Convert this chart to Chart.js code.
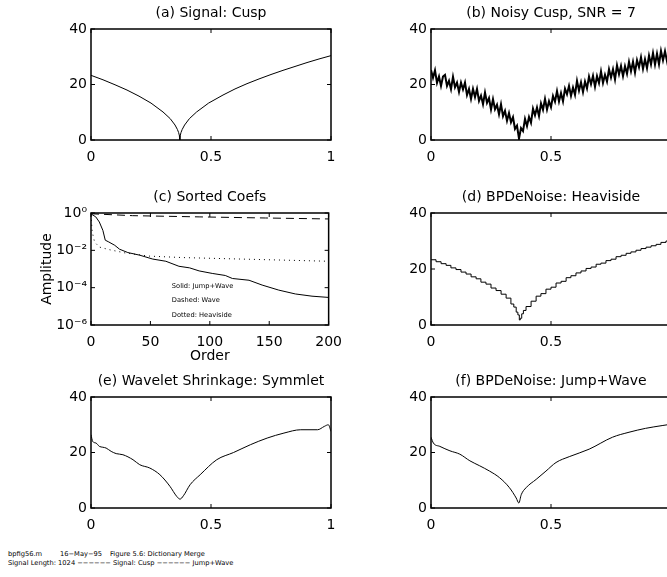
<!DOCTYPE html>
<html>
<head>
<meta charset="utf-8">
<script src="https://cdn.jsdelivr.net/npm/chart.js@4.4.1/dist/chart.umd.min.js"></script>
<style>
  html, body { margin: 0; padding: 0; background: #fff; width: 667px; height: 577px; overflow: hidden; }
  body { position: relative; }
  canvas { position: absolute; }
  .foot { position: absolute; font-family: "DejaVu Sans"; font-size: 6.7px; color: #000; white-space: pre; }
</style>
</head>
<body>
<canvas id="pa" width="320" height="163" style="left:31px;top:5px"></canvas>
<canvas id="pb" width="320" height="163" style="left:371px;top:5px"></canvas>
<canvas id="pc" width="320" height="176" style="left:31px;top:189px"></canvas>
<canvas id="pd" width="320" height="164" style="left:371px;top:189px"></canvas>
<canvas id="pe" width="320" height="163" style="left:31px;top:373px"></canvas>
<canvas id="pf" width="320" height="163" style="left:371px;top:373px"></canvas>
<div class="foot" style="left:8px;top:550px">bpfig56.m</div>
<div class="foot" style="left:60px;top:550px">16−May−95</div>
<div class="foot" style="left:110px;top:550px">Figure 5.6: Dictionary Merge</div>
<div class="foot" style="left:8px;top:559px">Signal Length: 1024 −−−−−− Signal: Cusp −−−−−− Jump+Wave</div>
<script>
    // ---------------- Data ----------------
    const panelTitles = [
        '(a) Signal: Cusp',
        '(b) Noisy Cusp, SNR = 7',
        '(c) Sorted Coefs',
        '(d) BPDeNoise: Heaviside',
        '(e) Wavelet Shrinkage: Symmlet',
        '(f) BPDeNoise: Jump+Wave'
    ];
    const signalTicks = [0, 0.5, 1];
    const ampTicks = [0, 20, 40];

    // (a) clean cusp
    const cuspT = [0, 0.05, 0.1, 0.15, 0.2, 0.25, 0.3, 0.33, 0.35, 0.36, 0.365, 0.368, 0.37,
        0.372, 0.375, 0.38, 0.39, 0.41, 0.44, 0.49, 0.55, 0.6, 0.65, 0.7, 0.75, 0.8, 0.85, 0.9, 0.95, 1];
    const cuspY = [23.3, 21.7, 19.9, 18.0, 15.8, 13.3, 10.1, 7.7, 5.4, 3.8, 2.7, 1.7, 0,
        1.7, 2.7, 3.8, 5.4, 7.7, 10.1, 13.3, 16.2, 18.4, 20.3, 22.0, 23.6, 25.1, 26.5, 27.9, 29.2, 30.4];

    // (b) noisy cusp, uniformly sampled on [0, 1]
    const noisyY = [
        25.2, 22.4, 25.1, 20.6, 22.9, 19.5, 22.9, 23.5, 19.5, 21.3,
        18.3, 22.8, 19.0, 20.7, 17.3, 20.7, 18.2, 20.7, 16.2, 18.4,
        14.8, 18.4, 15.5, 18.4, 14.1, 16.0, 12.9, 17.1, 13.4, 15.1,
        11.0, 14.7, 11.1, 12.7, 9.3, 12.9, 8.6, 10.5, 6.9, 9.7,
        6.4, 8.2, 4.0, 5.2, 0.5, 4.3, 3.2, 7.6, 5.0, 8.3,
        6.2, 11.3, 8.9, 11.7, 8.6, 13.2, 10.9, 14.8, 11.0, 14.0,
        11.8, 15.9, 13.8, 17.6, 13.9, 16.9, 13.9, 18.5, 16.5, 19.5,
        15.9, 18.9, 16.3, 21.3, 17.8, 20.8, 17.3, 21.1, 18.6, 22.9,
        20.1, 23.1, 19.2, 23.0, 20.5, 24.7, 20.6, 23.5, 21.1, 25.5,
        22.5, 25.5, 21.8, 26.9, 23.7, 26.7, 23.0, 26.6, 23.9, 28.2,
        24.8, 28.2, 24.3, 28.8, 26.2, 29.8, 25.6, 29.1, 25.9, 30.4,
        27.2, 31.3, 27.2, 31.1, 27.3, 32.1, 28.7, 32.0, 28.4, 32.1,
        29.4
    ];

    // (c) sorted coefficients
    const solidOrder = [0, 4, 7, 10, 12, 15, 20, 24, 31, 41, 52, 63, 74, 83, 91, 102, 113, 119, 133, 144, 158, 172, 186, 200];
    const solidAmp = [0.9, 0.62, 0.33, 0.117, 0.035, 0.028, 0.0186, 0.0115, 0.0076, 0.0055, 0.0034, 0.0026,
        0.0014, 0.00115, 0.00079, 0.00058, 0.00045, 0.00031, 0.00025, 0.000138, 0.000074, 0.000046, 0.000035, 0.00003];
    const dashedOrder = [0, 35, 91, 147, 200];
    const dashedAmp = [0.91, 0.72, 0.62, 0.54, 0.48];
    const dottedOrder = [0, 1, 3, 7, 15, 29, 49, 77, 119, 161, 200];
    const dottedAmp = [0.8, 0.1, 0.028, 0.015, 0.011, 0.0072, 0.0049, 0.0041, 0.0035, 0.003, 0.0026];
    const orderTicks = [0, 50, 100, 150, 200];
    const coefNotes = ['Solid: Jump+Wave', 'Dashed: Wave', 'Dotted: Heaviside'];

    // (d) BPDeNoise Heaviside (staircase)
    const heaviT = [0, 0.021, 0.042, 0.063, 0.083, 0.104, 0.125, 0.146, 0.167, 0.188, 0.208, 0.229, 0.25,
        0.271, 0.292, 0.313, 0.333, 0.345, 0.355, 0.362, 0.368, 0.372, 0.378, 0.385, 0.396, 0.417, 0.438,
        0.458, 0.479, 0.5, 0.521, 0.542, 0.563, 0.583, 0.604, 0.625, 0.646, 0.667, 0.688, 0.708, 0.729,
        0.75, 0.771, 0.792, 0.813, 0.833, 0.854, 0.875, 0.896, 0.917, 0.938, 0.958, 0.979, 1];
    const heaviY = [23.3, 22.6, 21.9, 21.3, 20.4, 19.8, 18.9, 18.2, 17.2, 16.5, 15.3, 14.6, 13.2,
        12.3, 11.0, 9.6, 7.5, 6.4, 4.6, 3.6, 1.8, 2.4, 4.0, 5.2, 6.6, 8.5, 10.3,
        11.2, 12.8, 13.5, 15.0, 15.6, 16.9, 17.6, 18.6, 19.3, 20.2, 20.7, 21.7, 22.1, 23.0,
        23.5, 24.4, 24.9, 25.6, 26.1, 26.7, 27.3, 27.8, 28.3, 28.8, 29.5, 30.0, 30.4];

    // (e) wavelet shrinkage
    const shrinkT = [0, 0.007, 0.021, 0.035, 0.049, 0.063, 0.084, 0.105, 0.133, 0.175, 0.203, 0.245, 0.287,
        0.329, 0.357, 0.371, 0.385, 0.413, 0.455, 0.524, 0.594, 0.664, 0.734, 0.804, 0.874, 0.944, 0.972, 0.989, 1];
    const shrinkY = [26.4, 24.0, 23.4, 22.2, 21.9, 21.6, 20.4, 19.6, 19.2, 17.4, 15.6, 14.4, 12.0,
        7.8, 4.2, 3.2, 4.4, 8.4, 12.0, 17.4, 20.0, 22.8, 25.2, 27.0, 28.2, 28.2, 29.4, 30.0, 27.6];

    // (f) BPDeNoise Jump+Wave
    const jwT = [0, 0.01, 0.037, 0.079, 0.12, 0.162, 0.203, 0.244, 0.286, 0.327, 0.355, 0.366, 0.376,
        0.396, 0.438, 0.479, 0.521, 0.576, 0.659, 0.756, 0.825, 0.894, 0.963, 1];
    const jwY = [25.5, 23.4, 22.2, 20.6, 19.4, 17.0, 15.2, 13.3, 10.9, 7.3, 3.6, 1.8, 4.8,
        7.3, 10.3, 13.3, 16.4, 18.5, 21.2, 25.5, 27.3, 28.7, 29.7, 30.2];

    // ---------------- Helpers ----------------
    Chart.defaults.font.family = 'DejaVu Sans';
    Chart.defaults.font.size = 14;
    Chart.defaults.color = '#000';

    const zip = (xs, ys) => xs.map((x, i) => ({ x: x, y: ys[i] }));

    // matlab style box with inward ticks on all four sides
    const boxTicks = {
        id: 'boxTicks',
        afterDatasetsDraw(chart) {
            const { ctx, chartArea: a, scales } = chart;
            const len = 4;
            ctx.save();
            ctx.strokeStyle = '#000';
            ctx.lineWidth = 1;
            scales.x.ticks.forEach(t => {
                const px = scales.x.getPixelForValue(t.value);
                ctx.beginPath();
                ctx.moveTo(px, a.bottom); ctx.lineTo(px, a.bottom - len);
                ctx.moveTo(px, a.top); ctx.lineTo(px, a.top + len);
                ctx.stroke();
            });
            scales.y.ticks.forEach(t => {
                const py = scales.y.getPixelForValue(t.value);
                ctx.beginPath();
                ctx.moveTo(a.left, py); ctx.lineTo(a.left + len, py);
                ctx.moveTo(a.right, py); ctx.lineTo(a.right - len, py);
                ctx.stroke();
            });
            ctx.lineWidth = 1.5;
            ctx.strokeRect(a.left, a.top, a.right - a.left, a.bottom - a.top);
            ctx.restore();
        }
    };

    function lineSet(points, extra) {
        return Object.assign({
            data: points,
            borderColor: '#000',
            borderWidth: 1,
            pointRadius: 0,
            fill: false
        }, extra || {});
    }

    function signalPanel(id, title, datasets) {
        new Chart(document.getElementById(id), {
            type: 'line',
            data: { datasets: datasets },
            plugins: [boxTicks],
            options: {
                responsive: false,
                animation: false,
                layout: { padding: { left: 0, right: 20, top: 0, bottom: 0 } },
                plugins: {
                    legend: { display: false },
                    tooltip: { enabled: false },
                    title: {
                        display: true, text: title, fullSize: false,
                        font: { size: 14, weight: 'normal' },
                        padding: { top: 0, bottom: 7.2 }
                    }
                },
                scales: {
                    x: {
                        type: 'linear', min: 0, max: 1,
                        afterBuildTicks: s => { s.ticks = signalTicks.map(v => ({ value: v })); },
                        afterFit: s => { s.height = 28; },
                        grid: { display: false, drawTicks: false },
                        border: { display: false },
                        ticks: { padding: 9, maxRotation: 0, callback: v => String(v) }
                    },
                    y: {
                        type: 'linear', min: 0, max: 40,
                        afterBuildTicks: s => { s.ticks = ampTicks.map(v => ({ value: v })); },
                        afterFit: s => { s.width = 60; },
                        grid: { display: false, drawTicks: false },
                        border: { display: false },
                        ticks: { padding: 4, callback: v => String(v) }
                    }
                }
            }
        });
    }

    // ---------------- Panels ----------------
    signalPanel('pa', panelTitles[0], [lineSet(zip(cuspT, cuspY))]);
    signalPanel('pb', panelTitles[1], [lineSet(noisyY.map((y, i) => ({ x: i / (noisyY.length - 1), y: y })), { borderWidth: 2 })]);
    signalPanel('pd', panelTitles[3], [lineSet(zip(heaviT, heaviY), { stepped: true })]);
    signalPanel('pe', panelTitles[4], [lineSet(zip(shrinkT, shrinkY), { cubicInterpolationMode: 'monotone' })]);
    signalPanel('pf', panelTitles[5], [lineSet(zip(jwT, jwY), { cubicInterpolationMode: 'monotone' })]);

    const superDigits = { '0': '⁰', '2': '²', '4': '⁴', '6': '⁶' };
    const coefNotesPlugin = {
        id: 'coefNotes',
        afterDatasetsDraw(chart) {
            const { ctx, scales } = chart;
            ctx.save();
            ctx.font = '6.7px "DejaVu Sans"';
            ctx.fillStyle = '#000';
            ctx.textBaseline = 'middle';
            const ys = [10 ** -3.9, 10 ** -4.7, 10 ** -5.5];
            coefNotes.forEach((txt, i) => {
                ctx.fillText(txt, scales.x.getPixelForValue(68), scales.y.getPixelForValue(ys[i]));
            });
            ctx.restore();
        }
    };

    new Chart(document.getElementById('pc'), {
        type: 'line',
        data: {
            datasets: [
                lineSet(zip(solidOrder, solidAmp)),
                lineSet(zip(dashedOrder, dashedAmp), { borderDash: [8, 5] }),
                lineSet(zip(dottedOrder, dottedAmp), { borderDash: [1, 4] })
            ]
        },
        plugins: [boxTicks, coefNotesPlugin],
        options: {
            responsive: false,
            animation: false,
            layout: { padding: { left: 0, right: 20, top: 0, bottom: 0 } },
            plugins: {
                legend: { display: false },
                tooltip: { enabled: false },
                title: {
                    display: true, text: panelTitles[2], fullSize: false,
                    font: { size: 14, weight: 'normal' },
                    padding: { top: 0, bottom: 7.2 }
                }
            },
            scales: {
                x: {
                    type: 'linear', min: 0, max: 200,
                    afterBuildTicks: s => { s.ticks = orderTicks.map(v => ({ value: v })); },
                    afterFit: s => { s.height = 40; },
                    grid: { display: false, drawTicks: false },
                    border: { display: false },
                    ticks: { padding: 9, maxRotation: 0, callback: v => String(v) },
                    title: { display: true, text: 'Order', padding: { top: 0, bottom: 0 } }
                },
                y: {
                    type: 'logarithmic', min: 1e-6, max: 1,
                    afterBuildTicks: s => { s.ticks = [-6, -5, -4, -3, -2, -1, 0].map(e => ({ value: 10 ** e })); },
                    afterFit: s => { s.width = 60; },
                    grid: { display: false, drawTicks: false },
                    border: { display: false },
                    ticks: {
                        padding: 4,
                        callback: v => {
                            const e = Math.round(Math.log10(v));
                            if (e % 2 !== 0) return '';
                            return '10' + (e < 0 ? '⁻' : '') + superDigits[String(Math.abs(e))];
                        }
                    },
                    title: { display: true, text: 'Amplitude', padding: { top: 8, bottom: 0 } }
                }
            }
        }
    });
</script>
</body>
</html>
